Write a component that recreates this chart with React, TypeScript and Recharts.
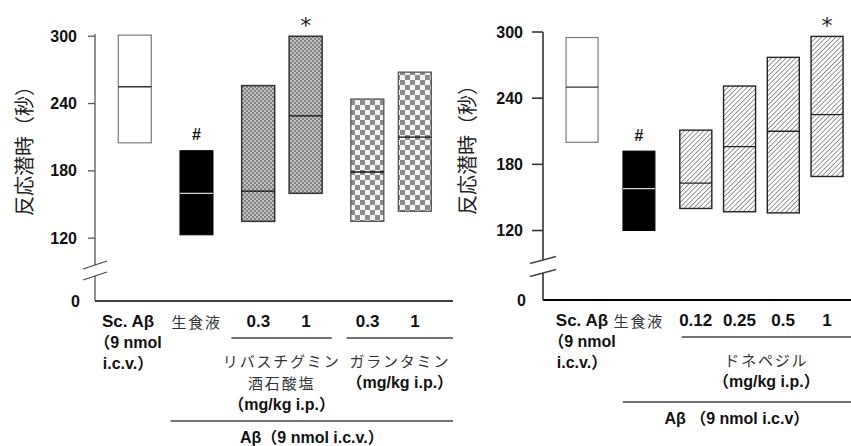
import React from "react";
import { BarChart, Bar, XAxis, YAxis, LabelList } from "recharts";

// ---- left panel: rivastigmine / galantamine ----
const leftCategories = ["Sc. Aβ", "生食液", "リバスチグミン 0.3", "リバスチグミン 1", "ガランタミン 0.3", "ガランタミン 1"];
const leftTickLabels = ["Sc. Aβ", "生食液", "0.3", "1", "0.3", "1"];
const leftGroups = [0, 1, 2, 2, 3, 3];
const leftMin = [205, 123, 135, 160, 135, 144];
const leftMax = [301, 198, 256, 300, 244, 268];
const leftMedian = [255, 160, 162, 229, 179, 210];
const leftMarks = ["", "#", "", "*", "", ""];
const leftGroupNotes = [
  ["リバスチグミン", "酒石酸塩", "（mg/kg i.p.）"],
  ["ガランタミン", "（mg/kg i.p.）"],
];
const leftVehicleNote = "Aβ（9 nmol i.c.v.）";

// ---- right panel: donepezil ----
const rightCategories = ["Sc. Aβ", "生食液", "ドネペジル 0.12", "ドネペジル 0.25", "ドネペジル 0.5", "ドネペジル 1"];
const rightTickLabels = ["Sc. Aβ", "生食液", "0.12", "0.25", "0.5", "1"];
const rightGroups = [0, 1, 2, 2, 2, 2];
const rightMin = [200, 120, 140, 137, 136, 169];
const rightMax = [295, 192, 211, 251, 277, 296];
const rightMedian = [250, 158, 163, 196, 210, 225];
const rightMarks = ["", "#", "", "", "", "*"];
const rightGroupNotes = [["ドネペジル", "（mg/kg i.p.）"]];
const rightVehicleNote = "Aβ （9 nmol i.c.v）";

const scLabel = ["Sc. Aβ", "（9 nmol", "i.c.v.）"];
const yTicks = [120, 180, 240, 300];
const yTitle = "反応潜時（秒）";

const GROUP_GAP = 0.3;
const LATIN = "'Liberation Sans', Arial, 'Noto Sans CJK JP', sans-serif";
const CJK = "'Noto Sans CJK JP', 'Noto Sans CJK SC', sans-serif";

type Row = {
  name: string;
  pos: number;
  range: [number, number];
  median: number;
  mark: string;
  group: number;
};

const buildRows = (
  cats: string[],
  groups: number[],
  mins: number[],
  maxs: number[],
  meds: number[],
  marks: string[]
): Row[] =>
  cats.map((name, i) => ({
    name,
    pos: i + GROUP_GAP * groups[i],
    range: [mins[i], maxs[i]],
    median: meds[i],
    mark: marks[i],
    group: groups[i],
  }));

const leftRows = buildRows(leftCategories, leftGroups, leftMin, leftMax, leftMedian, leftMarks);
const rightRows = buildRows(rightCategories, rightGroups, rightMin, rightMax, rightMedian, rightMarks);

const BOX = {
  open: { fill: "#fff", stroke: "#7a7a7a", strokeWidth: 1.2, median: "#333" },
  solid: { fill: "#000", stroke: "#000", strokeWidth: 1, median: "#d4d4d4" },
  fine: { fill: "url(#fineCheck)", stroke: "#333", strokeWidth: 1.5, median: "#111" },
  coarse: { fill: "url(#coarseCheck)", stroke: "#555", strokeWidth: 1.3, median: "#111" },
  hatch: { fill: "url(#hatch)", stroke: "#222", strokeWidth: 1.4, median: "#222" },
};

// axisX / axisY are in each chart's own svg coordinates
const LEFT = {
  left: 0,
  width: 460,
  margin: { top: 34, right: 7, left: 35, bottom: 0 },
  yWidth: 60,
  xHeight: 145,
  yDomain: [64, 302],
  xDomain: [-0.843, 6.7],
  axisX: 95,
  axisY: 301,
  tickLen: 7,
  labelGap: 18,
  barSize: 33,
  breaks: [36, 25],
  breakHalf: [12, 4],
  axisStroke: "#555",
  axisWidth: 1.3,
  xAxisWidth: 1.3,
  scDx: -7,
  spans: [
    { from: 2, to: 3, padL: 27, padR: 26 },
    { from: 4, to: 5, padL: 21, padR: null },
  ],
  vehiclePad: 26,
  vehicleDy: 120,
  styles: [BOX.open, BOX.solid, BOX.fine, BOX.coarse],
  titleX: 23,
  titleY: 146,
};

const RIGHT = {
  left: 430,
  width: 421,
  margin: { top: 32, right: 0, left: 53, bottom: 0 },
  yWidth: 60,
  xHeight: 146,
  yDomain: [57, 300],
  xDomain: [-0.89, 6.15],
  axisX: 113,
  axisY: 300,
  tickLen: 11,
  labelGap: 20,
  barSize: 32,
  breaks: [40, 27],
  breakHalf: [13, 3.5],
  axisStroke: "#333",
  axisWidth: 1.6,
  xAxisWidth: 2.2,
  scDx: 0,
  spans: [{ from: 2, to: 5, padL: 14, padR: null }],
  vehiclePad: 16,
  vehicleDy: 102,
  styles: [BOX.open, BOX.solid, BOX.hatch],
  titleX: 36,
  titleY: 145,
};

type Layout = typeof LEFT;

const isLatin = (s: string) => /[A-Za-z0-9]/.test(s);

const Label = ({ x, y, text, size = 16 }: { x: number; y: number; text: string; size?: number }) => (
  <text
    x={x}
    y={y}
    textAnchor="middle"
    dominantBaseline="central"
    fontFamily={isLatin(text) ? LATIN : CJK}
    fontWeight={isLatin(text) ? 700 : 400}
    fontSize={isLatin(text) ? size : 15}
    letterSpacing={isLatin(text) ? 0 : 1.8}
    fill={isLatin(text) ? "#111" : "#333"}
  >
    {text}
  </text>
);

const RangeBox = (props: any) => {
  const { x, y, width, height, payload, styles } = props;
  const s = styles[payload.group];
  const top = Math.min(y, y + height);
  const h = Math.abs(height);
  const [lo, hi] = payload.range;
  const my = top + (h * (hi - payload.median)) / (hi - lo);
  return (
    <g>
      <rect x={x} y={top} width={width} height={h} fill={s.fill} stroke={s.stroke} strokeWidth={s.strokeWidth} />
      <line x1={x} x2={x + width} y1={my} y2={my} stroke={s.median} strokeWidth={1.3} />
    </g>
  );
};

const MarkLabel = (props: any) => {
  const { x, y, width, value } = props;
  if (!value) return null;
  const cx = x + width / 2;
  if (value === "#") {
    return (
      <text x={cx} y={y - 16} textAnchor="middle" dominantBaseline="central" fontFamily={LATIN} fontWeight={700} fontSize={16} fill="#111">
        {value}
      </text>
    );
  }
  return (
    <text x={cx} y={y - 3} textAnchor="middle" fontFamily="'DejaVu Sans', sans-serif" fontSize={22} fill="#222">
      {value}
    </text>
  );
};

const YTick = (props: any) => {
  const { y, payload, layout } = props;
  const L: Layout = layout;
  const ax = L.axisX;
  if (payload.value === L.yDomain[0]) {
    // zero label, plus the axis break drawn just above it
    const [up, low] = L.breaks;
    const [hx, hy] = L.breakHalf;
    return (
      <g>
        <rect x={ax - 3} y={y - up} width={6} height={up - low} fill="#fff" />
        <line x1={ax - hx} y1={y - up + hy} x2={ax + hx} y2={y - up - hy} stroke="#444" strokeWidth={1.3} />
        <line x1={ax - hx} y1={y - low + hy} x2={ax + hx} y2={y - low - hy} stroke="#444" strokeWidth={1.3} />
        <text x={ax - L.labelGap + 3} y={y} textAnchor="end" dominantBaseline="central" fontFamily={LATIN} fontWeight={700} fontSize={16} fill="#111">
          0
        </text>
      </g>
    );
  }
  return (
    <g>
      <line x1={ax - L.tickLen} x2={ax} y1={y} y2={y} stroke={L.axisStroke} strokeWidth={L.axisWidth} />
      <text x={ax - L.labelGap} y={y} textAnchor="end" dominantBaseline="central" fontFamily={LATIN} fontWeight={700} fontSize={16} fill="#111">
        {payload.value}
      </text>
    </g>
  );
};

const XTick = (props: any) => {
  const { x, payload, rows, layout, tickLabels, groupNotes, vehicleNote } = props;
  const L: Layout = layout;
  const i = rows.findIndex((r: Row) => r.pos === payload.value);
  if (i < 0) return null;
  const plotW = L.width - L.margin.left - L.yWidth - L.margin.right;
  const unit = plotW / (L.xDomain[1] - L.xDomain[0]);
  const toPx = (pos: number) => x + (pos - rows[i].pos) * unit;
  const plotRight = toPx(L.xDomain[1]);
  const y0 = L.axisY;
  const out: React.ReactNode[] = [];

  if (i === 0) {
    scLabel.forEach((t, k) => out.push(<Label key={`sc${k}`} x={x + L.scDx} y={y0 + 20 + k * 21} text={t} size={k === 0 ? 17 : 16} />));
  } else {
    out.push(<Label key="t" x={x} y={y0 + 20} text={tickLabels[i]} size={17} />);
  }

  L.spans.forEach((s, k) => {
    if (s.from !== i) return;
    const x1 = x - s.padL;
    const x2 = s.padR === null ? plotRight : toPx(rows[s.to].pos) + s.padR;
    const mid = (x1 + x2) / 2;
    out.push(<line key={`u${k}`} x1={x1} x2={x2} y1={y0 + 37} y2={y0 + 37} stroke="#444" strokeWidth={1.3} />);
    groupNotes[k].forEach((t: string, j: number) =>
      out.push(<Label key={`g${k}${j}`} x={mid} y={y0 + 59 + j * 22} text={t} size={16} />)
    );
  });

  if (i === 1) {
    const x1 = x - L.vehiclePad;
    const mid = (x1 + plotRight) / 2;
    out.push(<line key="v" x1={x1} x2={plotRight} y1={y0 + L.vehicleDy} y2={y0 + L.vehicleDy} stroke="#444" strokeWidth={1.3} />);
    out.push(<Label key="vt" x={mid} y={y0 + L.vehicleDy + 16} text={vehicleNote} size={16} />);
  }
  return <g>{out}</g>;
};

const YTitle = ({ cx, cy }: { cx: number; cy: number }) => (
  <text
    x={cx}
    y={cy}
    transform={`rotate(-90 ${cx} ${cy})`}
    textAnchor="middle"
    dominantBaseline="central"
    fontFamily={CJK}
    fontSize={20}
    fill="#222"
  >
    {yTitle}
  </text>
);

const Panel = ({
  layout,
  rows,
  tickLabels,
  groupNotes,
  vehicleNote,
}: {
  layout: Layout;
  rows: Row[];
  tickLabels: string[];
  groupNotes: string[][];
  vehicleNote: string;
}) => (
  <div style={{ position: "absolute", left: layout.left, top: 0 }}>
    <BarChart width={layout.width} height={446} data={rows} margin={layout.margin}>
      <XAxis
        type="number"
        dataKey="pos"
        domain={layout.xDomain}
        allowDataOverflow
        ticks={rows.map((r) => r.pos)}
        interval={0}
        height={layout.xHeight}
        tickLine={false}
        axisLine={{ stroke: "#000", strokeWidth: layout.xAxisWidth }}
        tick={<XTick rows={rows} layout={layout} tickLabels={tickLabels} groupNotes={groupNotes} vehicleNote={vehicleNote} />}
      />
      <YAxis
        type="number"
        domain={layout.yDomain}
        allowDataOverflow
        ticks={[layout.yDomain[0], ...yTicks]}
        interval={0}
        width={layout.yWidth}
        tickLine={false}
        axisLine={{ stroke: layout.axisStroke, strokeWidth: layout.axisWidth }}
        tick={<YTick layout={layout} />}
        label={<YTitle cx={layout.titleX} cy={layout.titleY} />}
      />
      <Bar
        dataKey="range"
        barSize={layout.barSize}
        isAnimationActive={false}
        shape={(p: any) => <RangeBox {...p} styles={layout.styles} />}
      >
        <LabelList dataKey="mark" content={MarkLabel} />
      </Bar>
    </BarChart>
  </div>
);

export default function App() {
  return (
    <div style={{ position: "absolute", left: 0, top: 0, width: 851, height: 446, background: "#fff", overflow: "hidden" }}>
      <svg width={0} height={0} style={{ position: "absolute" }}>
        <defs>
          <pattern id="fineCheck" width={4} height={4} patternUnits="userSpaceOnUse">
            <rect width={4} height={4} fill="#c2c2c2" />
            <rect width={2} height={2} fill="#808080" />
            <rect x={2} y={2} width={2} height={2} fill="#808080" />
          </pattern>
          <pattern id="coarseCheck" width={10} height={10} patternUnits="userSpaceOnUse">
            <rect width={10} height={10} fill="#f4f4f4" />
            <rect width={5} height={5} fill="#8c8c8c" />
            <rect x={5} y={5} width={5} height={5} fill="#8c8c8c" />
          </pattern>
          <pattern id="hatch" width={3.4} height={3.4} patternUnits="userSpaceOnUse" patternTransform="rotate(45)">
            <rect width={3.4} height={3.4} fill="#fff" />
            <line x1={0} y1={0} x2={0} y2={3.4} stroke="#606060" strokeWidth={1.3} />
          </pattern>
        </defs>
      </svg>
      <Panel layout={LEFT} rows={leftRows} tickLabels={leftTickLabels} groupNotes={leftGroupNotes} vehicleNote={leftVehicleNote} />
      <Panel layout={RIGHT} rows={rightRows} tickLabels={rightTickLabels} groupNotes={rightGroupNotes} vehicleNote={rightVehicleNote} />
    </div>
  );
}
